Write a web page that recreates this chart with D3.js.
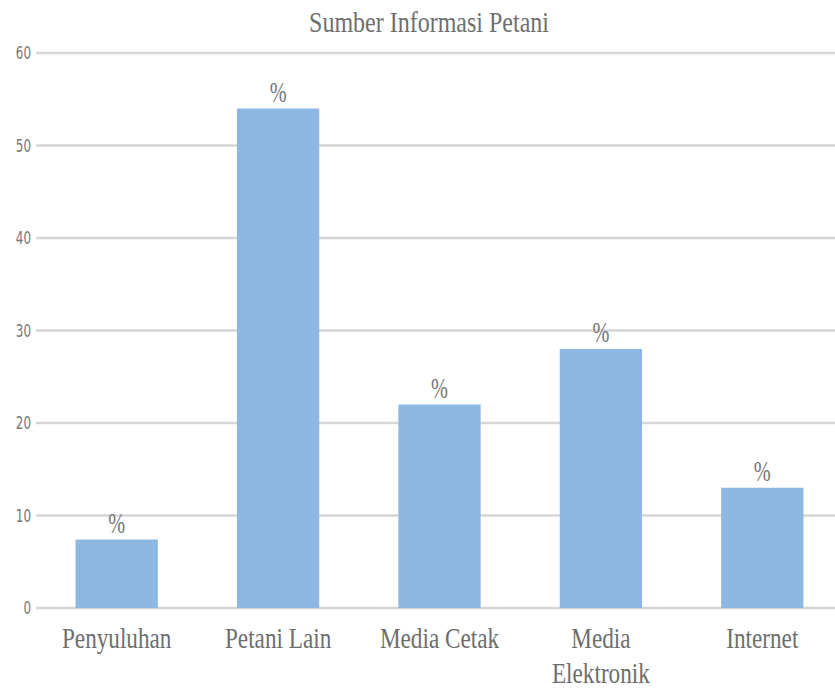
<!DOCTYPE html>
<html><head><meta charset="utf-8">
<script src="https://cdn.jsdelivr.net/npm/d3@7"></script>
<style>body{margin:0;background:#fff}</style>
</head><body>
<svg id="c" width="835" height="691"></svg>
<script>
const categories = ["Penyuluhan","Petani Lain","Media Cetak","Media Elektronik","Internet"];
const values = [7.4, 54, 22, 28, 13];
const dataLabels = ["%","%","%","%","%"];
const yTicks = [0,10,20,30,40,50,60];
const title = "Sumber Informasi Petani";

const svg = d3.select("#c");
const x = d3.scaleBand().domain(categories).range([36, 843]).paddingInner(0.49).paddingOuter(0.245);
const y = d3.scaleLinear().domain([0,60]).range([608, 53]);
const serif = "Liberation Serif";
const txtCol = "#6e6e6e";

svg.append("text").attr("text-anchor","middle")
  .attr("font-family",serif).attr("font-size",30).attr("fill",txtCol)
  .attr("transform","translate(429,32) scale(0.8,1)")
  .text(title);

svg.append("g").selectAll("line").data(yTicks).join("line")
  .attr("x1",36).attr("x2",835).attr("y1",d=>y(d)).attr("y2",d=>y(d))
  .attr("stroke","#d6d6d6").attr("stroke-width",2.5);

const yAxis = d3.axisLeft(y).tickValues(yTicks).tickSize(0).tickPadding(0);
const ga = svg.append("g").attr("transform","translate(31,0)").call(yAxis);
ga.select(".domain").remove();
ga.selectAll("text").attr("font-family","DejaVu Sans Condensed, DejaVu Sans").attr("font-size",17)
  .attr("fill","#777").attr("dy","0.35em").attr("x",null)
  .attr("transform","scale(0.78,1)");

svg.append("g").selectAll("rect").data(values).join("rect")
  .attr("x",(d,i)=>x(categories[i])).attr("width",x.bandwidth())
  .attr("y",d=>y(d)).attr("height",d=>y(0)-y(d)).attr("fill","#8cb8e2");

svg.append("g").selectAll("text").data(values).join("text")
  .attr("text-anchor","middle").attr("font-family",serif).attr("font-size",29).attr("fill","#777")
  .attr("transform",(d,i)=>`translate(${x(categories[i])+x.bandwidth()/2},${y(d)-7}) scale(0.7,1)`)
  .text((d,i)=>dataLabels[i]);

const xl = svg.append("g");
categories.forEach((c,i)=>{
  const cx = x(c)+x.bandwidth()/2;
  const lines = c==="Media Elektronik" ? ["Media","Elektronik"] : [c];
  const t = xl.append("text").attr("text-anchor","middle").attr("font-family",serif)
    .attr("font-size",29).attr("fill",txtCol)
    .attr("transform",`translate(${cx},0) scale(0.8,1)`);
  lines.forEach((l,j)=>t.append("tspan").attr("x",0).attr("y",648+j*35).text(l));
});
</script>
</body></html>
